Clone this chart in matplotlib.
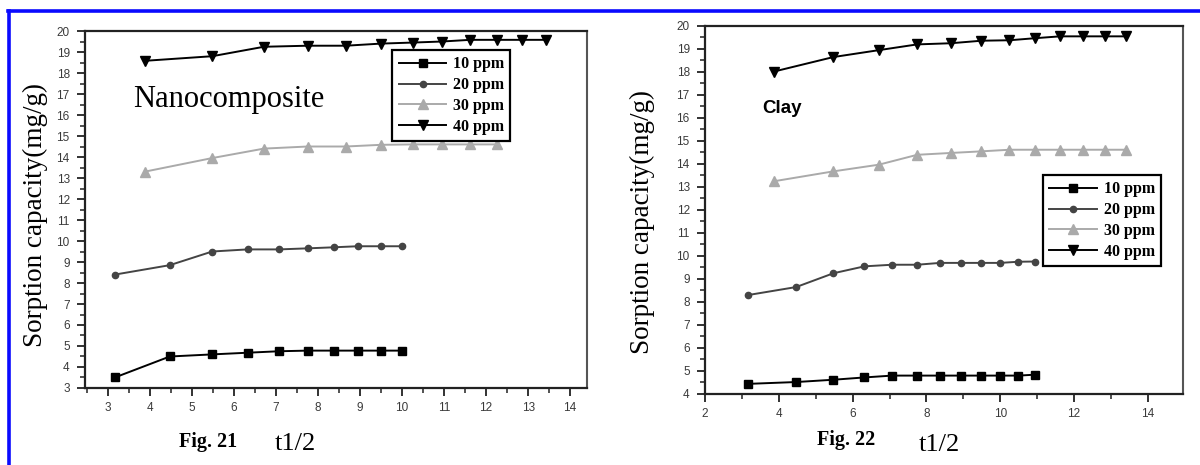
import matplotlib
matplotlib.use('Agg')
import matplotlib.pyplot as plt
from matplotlib.lines import Line2D
from matplotlib.ticker import MultipleLocator

# square root of contact time (t1/2)
t_step10 = [3.16, 4.47, 5.48, 6.32, 7.07, 7.75, 8.37, 8.94, 9.49, 10.0, 10.49, 10.95]
t_step15 = [3.87, 5.48, 6.71, 7.75, 8.66, 9.49, 10.25, 10.95, 11.62, 12.25, 12.85, 13.42]

# Fig. 21 - nanocomposite
nano_10 = [3.5, 4.5, 4.6, 4.68, 4.75, 4.78, 4.78, 4.78, 4.78, 4.78]
nano_20 = [8.4, 8.85, 9.5, 9.6, 9.6, 9.65, 9.7, 9.75, 9.75, 9.75]
nano_30 = [13.3, 13.95, 14.4, 14.5, 14.5, 14.58, 14.6, 14.6, 14.6, 14.6]
nano_40 = [18.58, 18.8, 19.25, 19.3, 19.3, 19.4, 19.45, 19.5, 19.58, 19.58, 19.58, 19.58]

# Fig. 22 - clay
clay_10 = [4.44, 4.52, 4.62, 4.72, 4.8, 4.8, 4.8, 4.8, 4.8, 4.8, 4.8, 4.84]
clay_20 = [8.3, 8.65, 9.25, 9.55, 9.62, 9.62, 9.7, 9.7, 9.7, 9.7, 9.75, 9.76]
clay_30 = [13.25, 13.68, 13.97, 14.4, 14.48, 14.55, 14.62, 14.62, 14.62, 14.62, 14.62, 14.62]
clay_40 = [18.02, 18.65, 18.95, 19.2, 19.25, 19.36, 19.38, 19.47, 19.55, 19.55, 19.55, 19.55]

labels = ['10 ppm', '20 ppm', '30 ppm', '40 ppm']

plt.rcParams['font.family'] = ['Liberation Sans', 'DejaVu Sans']

fig = plt.figure(figsize=(12, 4.65), dpi=100)
ax1 = fig.add_axes([0.0708, 0.1656, 0.4183, 0.7677])
ax2 = fig.add_axes([0.5875, 0.1527, 0.3983, 0.7914])


def draw_series(ax, s10, s20, s30, s40):
    ax.plot(t_step10[:len(s10)], s10, color='black', lw=1.4, marker='s', ms=5.5, label=labels[0])
    ax.plot(t_step10[:len(s20)], s20, color='#444444', lw=1.4, marker='o', ms=4.5, label=labels[1])
    ax.plot(t_step15[:len(s30)], s30, color='#aaaaaa', lw=1.4, marker='^', ms=6.5, label=labels[2])
    ax.plot(t_step15[:len(s40)], s40, color='black', lw=1.4, marker='v', ms=6.5, label=labels[3])


def style_axes(ax, xmaj, xmin_):
    ax.xaxis.set_major_locator(MultipleLocator(xmaj))
    ax.xaxis.set_minor_locator(MultipleLocator(xmin_))
    ax.yaxis.set_major_locator(MultipleLocator(1))
    ax.yaxis.set_minor_locator(MultipleLocator(0.5))
    ax.tick_params(which='major', direction='out', length=6, width=1.3,
                   labelsize=8.5, labelcolor='#3a3a3a', color='#222222')
    ax.tick_params(which='minor', direction='out', length=3.5, width=1.1, color='#222222')
    ax.tick_params(axis='y', pad=5)
    ax.tick_params(axis='x', pad=4)
    for side in ['left', 'bottom', 'top']:
        ax.spines[side].set_linewidth(1.6)
        ax.spines[side].set_color('#222222')
    ax.spines['right'].set_linewidth(1.5)
    ax.spines['right'].set_color('#555555')


def add_legend(ax, x, y):
    leg = ax.legend(loc='upper left', bbox_to_anchor=(x, y), numpoints=1,
                    handlelength=3.0, handletextpad=0.4, labelspacing=0.3,
                    borderpad=0.4, borderaxespad=0, fancybox=False, framealpha=1,
                    prop={'family': 'Liberation Serif', 'weight': 'bold', 'size': 11.5})
    leg.get_frame().set_edgecolor('black')
    leg.get_frame().set_linewidth(1.6)


# left panel
draw_series(ax1, nano_10, nano_20, nano_30, nano_40)
ax1.set_xlim(2.45, 14.4)
ax1.set_ylim(3, 20)
style_axes(ax1, 1, 0.5)
ax1.set_ylabel('Sorption capacity(mg/g)', family='Liberation Serif', fontsize=19.5)
ax1.yaxis.label.set_va('center')
ax1.yaxis.set_label_coords(-0.0996, 0.485)
ax1.set_xlabel('t1/2', family='Liberation Serif', fontsize=19)
ax1.xaxis.set_label_coords(0.42, -0.125)
ax1.text(0.0956, 0.787, 'Nanocomposite', transform=ax1.transAxes,
         family='Liberation Serif', fontsize=22)
add_legend(ax1, 0.612, 0.947)

# right panel
draw_series(ax2, clay_10, clay_20, clay_30, clay_40)
ax2.set_xlim(2, 14.95)
ax2.set_ylim(4, 20)
style_axes(ax2, 2, 1)
ax2.set_ylabel('Sorption capacity(mg/g)', family='Liberation Serif', fontsize=19.5)
ax2.yaxis.label.set_va('center')
ax2.yaxis.set_label_coords(-0.13, 0.467)
ax2.set_xlabel('t1/2', family='Liberation Serif', fontsize=19)
ax2.xaxis.set_label_coords(0.49, -0.11)
ax2.text(0.119, 0.764, 'Clay', transform=ax2.transAxes,
         fontsize=13.5, fontweight='bold')
add_legend(ax2, 0.707, 0.595)

fig.text(0.149, 0.0387, 'Fig. 21', family='Liberation Serif', fontweight='bold', fontsize=14.5)
fig.text(0.681, 0.043, 'Fig. 22', family='Liberation Serif', fontweight='bold', fontsize=14.5)

# blue frame lines (top and left)
fig.add_artist(Line2D([0.0067, 1.0], [0.9763, 0.9763], color='#0a0aff', lw=2.6))
fig.add_artist(Line2D([0.0079, 0.0079], [0.0, 0.9763], color='#0a0aff', lw=2.6))

fig.savefig('out.png', dpi=100)
